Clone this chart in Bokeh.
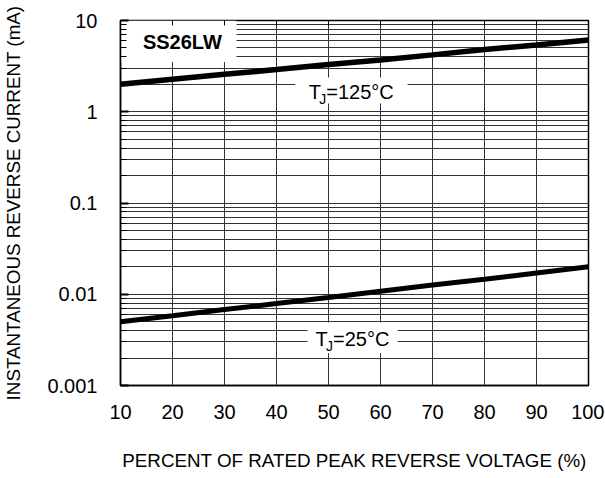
from bokeh.plotting import figure
from bokeh.models import FixedTicker, Label, BoxAnnotation, LinearAxis
from bokeh.embed import file_html
from bokeh.resources import INLINE

# ---- data ----
voltage_pct = [10, 20, 30, 40, 50, 60, 70, 80, 90, 100]
current_125c = [2.0, 2.27, 2.57, 2.9, 3.3, 3.7, 4.2, 4.8, 5.4, 6.1]
current_25c = [0.0050, 0.0058, 0.0068, 0.0079, 0.0092, 0.0108, 0.0126, 0.0146, 0.0171, 0.0200]

x_ticks = [10, 20, 30, 40, 50, 60, 70, 80, 90, 100]
y_ticks = [0.001, 0.01, 0.1, 1, 10]
y_tick_labels = ["0.001", "0.01", "0.1", "1", "10"]
y_minor_ticks = [m * d for d in [0.001, 0.01, 0.1, 1] for m in range(2, 10)]

FONT = "Liberation Sans"

p = figure(width=604, height=477, frame_width=468, frame_height=365,
           min_border_left=120, min_border_right=16, min_border_top=20, min_border_bottom=92,
           x_range=(10, 100), y_range=(0.001, 10), y_axis_type="log",
           output_backend="svg", toolbar_location=None)

p.outline_line_color = "black"
p.outline_line_width = 1.5
p.background_fill_color = "white"
p.border_fill_color = "white"

# axes
p.xaxis.ticker = FixedTicker(ticks=x_ticks)
p.yaxis.ticker = FixedTicker(ticks=y_ticks, minor_ticks=y_minor_ticks)
p.yaxis.major_label_overrides = {t: l for t, l in zip(y_ticks, y_tick_labels)}

for ax in (p.xaxis[0], p.yaxis[0]):
    ax.axis_line_color = "black"
    ax.axis_line_width = 1.5
    ax.major_tick_out = 0
    ax.major_tick_in = 0
    ax.minor_tick_out = 0
    ax.minor_tick_in = 0
    ax.major_tick_line_color = "black"
    ax.minor_tick_line_color = "black"
    ax.major_label_text_font = FONT
    ax.major_label_text_font_size = "20px"
    ax.major_label_text_color = "black"
    ax.axis_label_text_font = FONT
    ax.axis_label_text_font_size = "18.8px"
    ax.axis_label_text_font_style = "normal"
    ax.axis_label_text_color = "black"

p.yaxis.major_tick_in = 8
p.yaxis.major_tick_line_width = 2
p.yaxis.minor_tick_in = 6
p.xaxis.major_label_standoff = 19
p.yaxis.major_label_standoff = 23
p.xaxis.axis_label = "PERCENT OF RATED PEAK REVERSE VOLTAGE (%)"
p.yaxis.axis_label = "INSTANTANEOUS REVERSE CURRENT (mA)"
p.xaxis.axis_label_standoff = 28
p.yaxis.axis_label_standoff = 20

# top axis: only short inward ticks, no labels
top_axis = LinearAxis(ticker=FixedTicker(ticks=x_ticks), axis_line_color=None,
                      major_tick_in=5, major_tick_out=0, minor_tick_in=0, minor_tick_out=0,
                      major_tick_line_color="black", major_label_text_alpha=0,
                      major_label_text_font_size="1px", major_label_standoff=0)
p.add_layout(top_axis, "above")

# grid
p.xgrid.grid_line_color = "#333333"
p.xgrid.grid_line_width = 1
p.ygrid.grid_line_color = "#333333"
p.ygrid.grid_line_width = 1
p.ygrid.minor_grid_line_color = "#333333"
p.ygrid.minor_grid_line_width = 1

# white boxes hiding the grid behind the labels
boxes = [
    dict(left=10, right=32.3, bottom=3.5, top=10),
    dict(left=43.6, right=65.2, bottom=1.23, top=2.38),
    dict(left=46.0, right=63.3, bottom=0.00225, top=0.0049),
]
for b in boxes:
    p.add_layout(BoxAnnotation(fill_color="white", fill_alpha=1, line_color=None,
                               level="glyph", **b))

# curves
p.line(voltage_pct, current_125c, line_color="black", line_width=5.5)
p.line(voltage_pct, current_25c, line_color="black", line_width=5)

# labels
p.add_layout(Label(x=21.9, y=5.82, text="SS26LW", text_font=FONT, text_font_size="20px",
                   text_font_style="bold", text_align="center", text_baseline="middle",
                   text_color="black"))


def tj_label(x, y, temp):
    p.add_layout(Label(x=x, y=y, text="T", text_font=FONT, text_font_size="20px",
                       text_align="left", text_baseline="middle", text_color="black"))
    p.add_layout(Label(x=x, y=y, x_offset=10.5, y_offset=-7, text="J", text_font=FONT,
                       text_font_size="14px", text_align="left", text_baseline="middle",
                       text_color="black"))
    p.add_layout(Label(x=x, y=y, x_offset=17.5, text="=" + temp + "\u00b0C", text_font=FONT,
                       text_font_size="20px", text_align="left", text_baseline="middle",
                       text_color="black"))


tj_label(46.2, 1.63, "125")
tj_label(47.5, 0.0032, "25")

open("out.html", "w").write(file_html(p, INLINE))
